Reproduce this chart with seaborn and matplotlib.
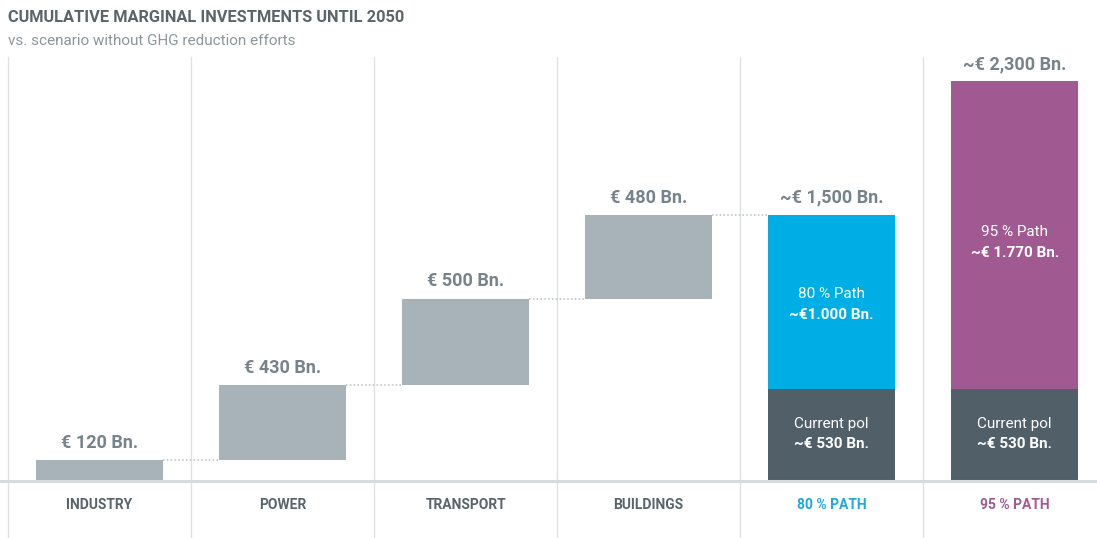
import numpy as np
import matplotlib
matplotlib.use("Agg")
import matplotlib.pyplot as plt
from matplotlib import font_manager
from matplotlib.lines import Line2D
import seaborn as sns

# ---- data (€ Bn., cumulative marginal investments until 2050) ----
categories = ["INDUSTRY", "POWER", "TRANSPORT", "BUILDINGS", "80 % PATH", "95 % PATH"]
sector_increments = [120, 430, 500, 480]
current_policy = 530
path_increments = [1000, 1770]
value_labels = ["€ 120 Bn.", "€ 430 Bn.", "€ 500 Bn.", "€ 480 Bn.",
                "~€ 1,500 Bn.", "~€ 2,300 Bn."]
path_labels = [("80 % Path", "~€1.000 Bn."), ("95 % Path", "~€ 1.770 Bn.")]
policy_label = ("Current pol", "~€ 530 Bn.")

# ---- style ----
sns.set_theme(style="white")
available = {f.name for f in font_manager.fontManager.ttflist}
main_font = "Liberation Sans Narrow" if "Liberation Sans Narrow" in available else "Roboto"
plt.rcParams["font.family"] = [main_font, "DejaVu Sans"]

GRAY_BAR = "#a8b2b9"
DARK = "#505f68"
BLUE = "#00aee6"
PURPLE = "#a05a91"
LABEL_GRAY = "#76838a"
CAT_GRAY = "#59646a"
LINE_GRAY = "#dde1e3"

# ---- derived bar extents ----
sector_tops = np.cumsum(sector_increments)
sector_bases = sector_tops - np.array(sector_increments)
path_tops = current_policy + np.array(path_increments)
tops = list(sector_tops) + list(path_tops)
bases = list(sector_bases) + [current_policy] * len(path_increments)

fig = plt.figure(figsize=(10.97, 5.38), dpi=100)
fig.patch.set_facecolor("white")
ax = fig.add_axes([8 / 1097, 1 - 481 / 538, 1089 / 1097, 424 / 538])
ax.set_facecolor("white")

bar_w = 0.69
top_colors = [GRAY_BAR] * 4 + [BLUE, PURPLE]
base_colors = ["white"] * 4 + [DARK, DARK]

# full-height bars, then the lower part (white gap for the waterfall,
# current-policy share for the two paths) drawn over them
sns.barplot(x=categories, y=tops, hue=categories, order=categories,
            palette=dict(zip(categories, top_colors)), legend=False,
            width=bar_w, saturation=1, linewidth=0, ax=ax, zorder=2)
sns.barplot(x=categories, y=bases, hue=categories, order=categories,
            palette=dict(zip(categories, base_colors)), legend=False,
            width=bar_w, saturation=1, linewidth=0, ax=ax, zorder=3)

ax.set_xlim(-0.5, 5.45)
ax.set_ylim(0, 2440)
sns.despine(ax=ax, left=True, bottom=True)
ax.set_yticks([])
ax.set_xlabel("")
ax.set_ylabel("")

# column separators running down past the baseline
for b in np.arange(-0.5, 6, 1.0):
    ax.plot([b, b], [-0.14, 1.0], color=LINE_GRAY, lw=1.0,
            transform=ax.get_xaxis_transform(), clip_on=False, zorder=1)

# baseline across the full width
y0 = 1 - 481 / 538
fig.add_artist(Line2D([0, 1], [y0, y0], color="#d6dbde", lw=2.2, zorder=5))

# dotted connectors between consecutive bars
for i in range(4):
    ax.plot([i + bar_w / 2, i + 1 - bar_w / 2], [tops[i], tops[i]],
            ls=(0, (1, 1.5)), color="#b7bfc4", lw=1.1, zorder=1)

# value labels above the bars
for i, lab in enumerate(value_labels):
    ax.annotate(lab, (i, tops[i]), xytext=(0, 6), textcoords="offset points",
                ha="center", va="bottom", fontsize=13, fontweight="bold",
                color=LABEL_GRAY)

# labels inside the stacked bars (offsets in points from segment centre)
path_offsets = [(6, -9), (2.5, -13)]
for k, (l1, l2) in enumerate(path_labels):
    i = 4 + k
    yc = (bases[i] + tops[i]) / 2
    d1, d2 = path_offsets[k]
    ax.annotate(l1, (i, yc), xytext=(0, d1), textcoords="offset points",
                ha="center", va="center", fontsize=11, color="white", zorder=6)
    ax.annotate(l2, (i, yc), xytext=(0, d2), textcoords="offset points",
                ha="center", va="center", fontsize=11, fontweight="bold",
                color="white", zorder=6)
for i in (4, 5):
    yc = current_policy / 2
    ax.annotate(policy_label[0], (i, yc), xytext=(0, 8), textcoords="offset points",
                ha="center", va="center", fontsize=11, color="white", zorder=6)
    ax.annotate(policy_label[1], (i, yc), xytext=(0, -6.5), textcoords="offset points",
                ha="center", va="center", fontsize=11, fontweight="bold",
                color="white", zorder=6)

# category labels
ax.set_xticks(range(len(categories)))
ax.set_xticklabels(categories, fontsize=10, fontweight="bold")
ax.tick_params(axis="x", length=0, pad=12)
cat_colors = [CAT_GRAY] * 4 + ["#1ea9da", PURPLE]
for t, c in zip(ax.get_xticklabels(), cat_colors):
    t.set_color(c)

# titles
fig.text(8 / 1097, 1 - 17 / 538, "CUMULATIVE MARGINAL INVESTMENTS UNTIL 2050",
         ha="left", va="center", fontsize=11.8, fontweight="bold", color="#5a656b")
fig.text(8 / 1097, 1 - 41 / 538, "vs. scenario without GHG reduction efforts",
         ha="left", va="center", fontsize=11, color="#8c969b")

fig.savefig("out.png", dpi=100, facecolor="white")
